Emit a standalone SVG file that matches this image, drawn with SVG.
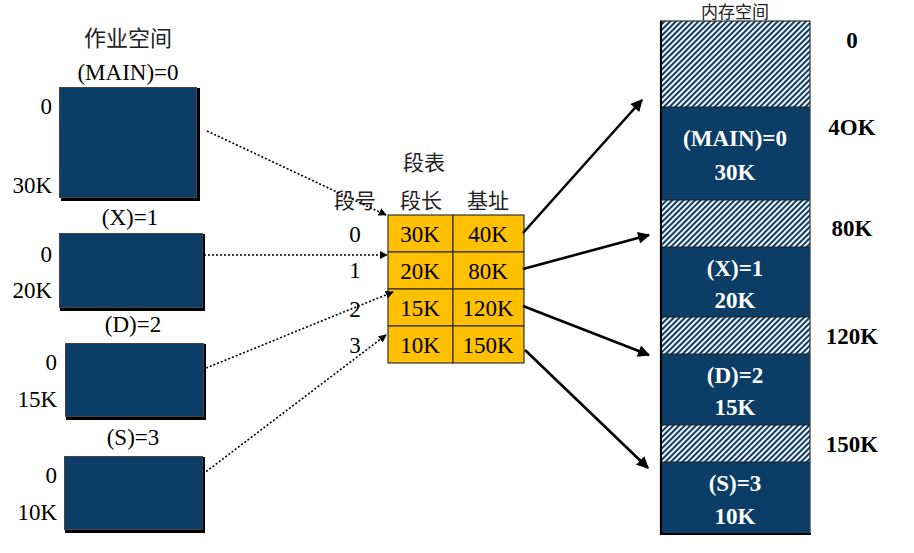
<svg xmlns="http://www.w3.org/2000/svg" width="914" height="553" viewBox="0 0 914 553">
<defs>
<style>
.t{font-family:"Liberation Serif","Times New Roman",serif;font-size:23px;fill:#000}
.c{text-anchor:middle}
.r{text-anchor:end}
.cjk{font-family:"Noto Sans CJK SC","Noto Sans CJK TC",sans-serif;font-size:21px;fill:#222;text-anchor:middle}
.b{font-family:"Liberation Serif","Times New Roman",serif;font-size:23px;font-weight:bold;text-anchor:middle}
.w{fill:#fff}
.seg{fill:#0b3d66;stroke:#444;stroke-width:1}
.shadow{fill:#000}
.cell{fill:#ffc000;stroke:#333;stroke-width:1.2}
.mem{fill:#0b3d66}
.hat{fill:url(#hatch)}
.dot{stroke:#000;stroke-width:1.6;stroke-dasharray:2 2;fill:none;marker-end:url(#sa)}
.sol{stroke:#000;stroke-width:2.6;fill:none;marker-end:url(#la)}
</style>
<pattern id="hatch" width="4" height="4" patternUnits="userSpaceOnUse" patternTransform="rotate(45)">
<rect width="4" height="4" fill="#fff"/>
<rect width="2.1" height="4" fill="#0b3d66"/>
</pattern>
<marker id="sa" viewBox="0 0 10 10" refX="9" refY="5" markerWidth="8" markerHeight="8" markerUnits="userSpaceOnUse" orient="auto">
<path d="M0,0 L10,5 L0,10 z" fill="#000"/>
</marker>
<marker id="la" viewBox="0 0 10 10" refX="9" refY="5" markerWidth="14" markerHeight="12" markerUnits="userSpaceOnUse" orient="auto">
<path d="M0,0 L10,5 L0,10 z" fill="#000"/>
</marker>
</defs>
<rect width="914" height="553" fill="#fff"/>

<text class="cjk" x="128" y="46" style="font-size:22px">作业空间</text>

<g id="job-main">
<text class="t c" x="128" y="80">(MAIN)=0</text>
<rect class="shadow" x="61" y="88" width="139" height="113"/>
<rect class="seg" x="59.5" y="87.5" width="137" height="110"/>
<text class="t r" x="52" y="114">0</text>
<text class="t r" x="52" y="193">30K</text>
</g>
<g id="job-x">
<text class="t c" x="130" y="225">(X)=1</text>
<rect class="shadow" x="60" y="234" width="145" height="77"/>
<rect class="seg" x="59.5" y="233.5" width="143" height="74"/>
<text class="t r" x="52" y="262">0</text>
<text class="t r" x="52" y="298">20K</text>
</g>
<g id="job-d">
<text class="t c" x="133" y="332">(D)=2</text>
<rect class="shadow" x="66" y="344" width="140" height="76"/>
<rect class="seg" x="65.5" y="343.5" width="138" height="73"/>
<text class="t r" x="57" y="370">0</text>
<text class="t r" x="57" y="407">15K</text>
</g>
<g id="job-s">
<text class="t c" x="133" y="445">(S)=3</text>
<rect class="shadow" x="65" y="457" width="140" height="76"/>
<rect class="seg" x="64.5" y="456.5" width="138" height="73"/>
<text class="t r" x="57" y="483">0</text>
<text class="t r" x="57" y="520">10K</text>
</g>

<g id="segment-table">
<text class="cjk" x="424" y="170">段表</text>
<text class="cjk" x="355" y="208">段号</text>
<text class="cjk" x="421" y="208">段长</text>
<text class="cjk" x="488" y="208">基址</text>
<rect class="cell" x="388" y="215" width="65" height="37"/>
<rect class="cell" x="453" y="215" width="71" height="37"/>
<rect class="cell" x="388" y="252" width="65" height="37"/>
<rect class="cell" x="453" y="252" width="71" height="37"/>
<rect class="cell" x="388" y="289" width="65" height="37"/>
<rect class="cell" x="453" y="289" width="71" height="37"/>
<rect class="cell" x="388" y="326" width="65" height="37"/>
<rect class="cell" x="453" y="326" width="71" height="37"/>
<text class="t c" x="420" y="242">30K</text>
<text class="t c" x="488" y="242">40K</text>
<text class="t c" x="420" y="279">20K</text>
<text class="t c" x="488" y="279">80K</text>
<text class="t c" x="420" y="316">15K</text>
<text class="t c" x="488" y="316">120K</text>
<text class="t c" x="420" y="353">10K</text>
<text class="t c" x="488" y="353">150K</text>
<text class="t c" x="355" y="242">0</text>
<text class="t c" x="355" y="278">1</text>
<text class="t c" x="355" y="317">2</text>
<text class="t c" x="355" y="353">3</text>
</g>

<g id="memory">
<text class="cjk" x="735" y="18" style="font-size:17px">内存空间</text>
<rect class="hat" x="661" y="21" width="149" height="86"/>
<rect class="mem" x="661" y="107" width="149" height="93"/>
<rect class="hat" x="661" y="200" width="149" height="47"/>
<rect class="mem" x="661" y="247" width="149" height="70"/>
<rect class="hat" x="661" y="317" width="149" height="37"/>
<rect class="mem" x="661" y="354" width="149" height="71"/>
<rect class="hat" x="661" y="425" width="149" height="37"/>
<rect class="mem" x="661" y="462" width="149" height="72"/>
<g stroke="#222" stroke-width="1">
<line x1="661" y1="107" x2="810" y2="107"/>
<line x1="661" y1="200" x2="810" y2="200"/>
<line x1="661" y1="247" x2="810" y2="247"/>
<line x1="661" y1="317" x2="810" y2="317"/>
<line x1="661" y1="354" x2="810" y2="354"/>
<line x1="661" y1="425" x2="810" y2="425"/>
<line x1="661" y1="462" x2="810" y2="462"/>
</g>
<rect x="660.5" y="21" width="149.5" height="513" fill="none" stroke="#333" stroke-width="1.2"/>
<line x1="661" y1="21" x2="661" y2="535" stroke="#000" stroke-width="2"/>
<line x1="660" y1="534" x2="811" y2="534" stroke="#000" stroke-width="2"/>
<text class="b w" x="735" y="146">(MAIN)=0</text>
<text class="b w" x="735" y="180">30K</text>
<text class="b w" x="735" y="276">(X)=1</text>
<text class="b w" x="735" y="308">20K</text>
<text class="b w" x="735" y="383">(D)=2</text>
<text class="b w" x="735" y="415">15K</text>
<text class="b w" x="735" y="491">(S)=3</text>
<text class="b w" x="735" y="524">10K</text>
<text class="b" x="852" y="48">0</text>
<text class="b" x="852" y="135">4OK</text>
<text class="b" x="852" y="236">80K</text>
<text class="b" x="852" y="344">120K</text>
<text class="b" x="852" y="452">150K</text>
</g>

<g id="connectors">
<line class="dot" x1="207" y1="131" x2="386" y2="215"/>
<line class="dot" x1="204" y1="255" x2="387" y2="255"/>
<line class="dot" x1="206" y1="368" x2="393" y2="292"/>
<line class="dot" x1="203" y1="474" x2="386" y2="335"/>
<line class="sol" x1="523" y1="233" x2="642" y2="100"/>
<line class="sol" x1="523" y1="269" x2="649" y2="235"/>
<line class="sol" x1="523" y1="306" x2="649" y2="355"/>
<line class="sol" x1="525" y1="350" x2="648" y2="468"/>
</g>
</svg>
